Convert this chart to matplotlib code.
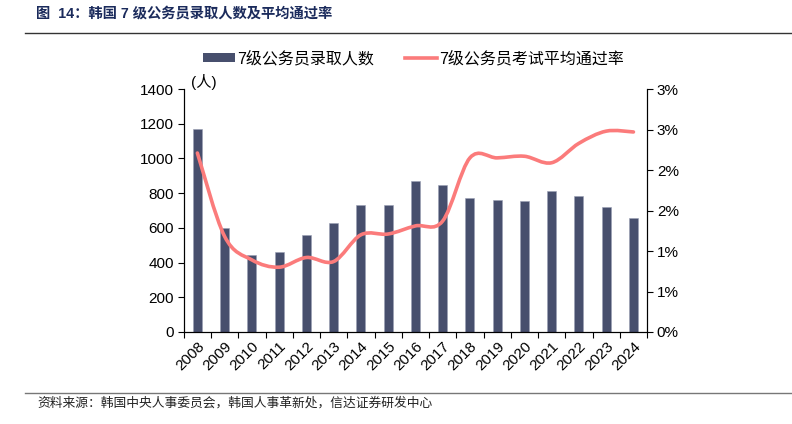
import matplotlib
matplotlib.use("Agg")
import matplotlib.pyplot as plt
from matplotlib.path import Path
from matplotlib.patches import PathPatch, Rectangle
from matplotlib.lines import Line2D
import numpy as np

plt.rcParams['font.family'] = ['Liberation Sans', 'Noto Sans CJK SC', 'DejaVu Sans']

# data
years = [str(y) for y in range(2008, 2025)]
admitted = [1170, 600, 445, 460, 560, 630, 730, 730, 870, 845,
            770, 760, 755, 815, 785, 720, 655]
pass_rate = [2.21, 1.18, 0.89, 0.80, 0.92, 0.87, 1.20, 1.21, 1.31, 1.37,
             2.15, 2.15, 2.17, 2.09, 2.33, 2.48, 2.47]

left_ticks = [0, 200, 400, 600, 800, 1000, 1200, 1400]
right_ticks = [0, 0.5, 1.0, 1.5, 2.0, 2.5, 3.0]
right_labels = ['0%', '1%', '1%', '2%', '2%', '3%', '3%']

bar_color = '#474f6d'
line_color = '#fb7b7b'
title_color = '#1b2b5c'


def smooth_path(xs, ys):
    # Excel-like smoothed line: cubic bezier with catmull-rom control points
    pts = np.column_stack([xs, ys]).astype(float)
    n = len(pts)
    verts = [pts[0]]
    codes = [Path.MOVETO]
    for i in range(n - 1):
        p0 = pts[i - 1] if i > 0 else pts[i]
        p1 = pts[i]
        p2 = pts[i + 1]
        p3 = pts[i + 2] if i + 2 < n else pts[i + 1]
        c1 = p1 + (p2 - p0) / 6.0
        c2 = p2 - (p3 - p1) / 6.0
        verts += [c1, c2, p2]
        codes += [Path.CURVE4] * 3
    return Path(verts, codes)


fig = plt.figure(figsize=(7.92, 4.24), dpi=100)
ax = fig.add_axes([0.232, 0.217, 0.585, 0.573])
ax2 = ax.twinx()

x = np.arange(len(years))
ax.bar(x, admitted, width=0.33, color=bar_color, edgecolor='#9aa0b4', linewidth=0.4, zorder=2)

patch = PathPatch(smooth_path(x, pass_rate), facecolor='none', edgecolor=line_color,
                  linewidth=2.6, capstyle='round', joinstyle='round', zorder=3)
ax2.add_patch(patch)

ax.set_xlim(-0.5, len(years) - 0.5)
ax.set_ylim(0, 1400)
ax2.set_ylim(0, 3.0)

ax.set_yticks(left_ticks)
ax.set_yticklabels([str(t) for t in left_ticks])
ax2.set_yticks(right_ticks)
ax2.set_yticklabels(right_labels)

# category ticks between bars, labels at centres
ax.set_xticks(np.arange(len(years) + 1) - 0.5)
ax.set_xticklabels([])
ax.set_xticks(x, minor=True)
ax.set_xticklabels(years, minor=True, rotation=45, ha='right', va='top',
                   rotation_mode='anchor', fontsize=11)
ax.tick_params(axis='x', which='major', direction='out', length=4, width=0.8)
ax.tick_params(axis='x', which='minor', length=0, pad=5)
ax.tick_params(axis='y', direction='out', length=4, width=0.8, labelsize=11, pad=3)
ax2.tick_params(axis='y', direction='out', length=4, width=0.8, labelsize=11, pad=3)

for a in (ax, ax2):
    a.spines['top'].set_visible(False)
    a.spines['left'].set_linewidth(0.8)
    a.spines['right'].set_linewidth(0.8)
    a.spines['bottom'].set_linewidth(0.8)

ax.text(-0.25, 1395, '(人)', ha='left', va='bottom', fontsize=11)

# legend
handles = [Rectangle((0, 0), 1, 1, facecolor=bar_color, edgecolor='none'),
           Line2D([0], [0], color=line_color, linewidth=2.6)]
fig.legend(handles, ['7级公务员录取人数', '7级公务员考试平均通过率'],
           loc='center', bbox_to_anchor=(0.522, 0.862), ncol=2, frameon=False,
           fontsize=11.5, handlelength=2.0, handleheight=0.5, handletextpad=0.15,
           columnspacing=1.9)

# title, rules and source
fig.text(0.045, 0.968, '图  14：韩国 7 级公务员录取人数及平均通过率', ha='left', va='center',
         fontsize=10.3, fontweight='bold', color=title_color)
fig.add_artist(Line2D([0.032, 1.0], [0.921, 0.921], color='#333333', linewidth=1.0))
fig.add_artist(Line2D([0.032, 1.0], [0.073, 0.073], color='#777777', linewidth=1.0))
fig.text(0.047, 0.048, '资料来源：韩国中央人事委员会，韩国人事革新处，信达证券研发中心',
         ha='left', va='center', fontsize=9.2, color='#222222', style='italic')

fig.savefig('out.png', dpi=100)
